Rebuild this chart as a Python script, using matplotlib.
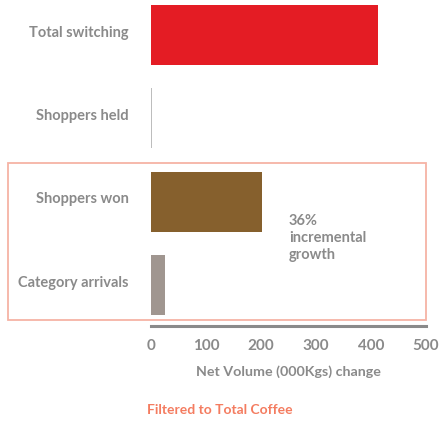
import matplotlib
matplotlib.use('Agg')
import matplotlib.pyplot as plt
from matplotlib.patches import Rectangle
from matplotlib.transforms import ScaledTranslation

# data
categories = ['Total switching', 'Shoppers held', 'Shoppers won', 'Category arrivals']
values = [413, 1, 202, 25]
colors = ['#e41c24', '#bdbdbd', '#86602d', '#a09690']
x_ticks = [0, 100, 200, 300, 400, 500]
note_text = '36%\nincremental\ngrowth'
footer_text = 'Filtered to Total Coffee'

plt.rcParams['font.family'] = ['Lato', 'DejaVu Sans']
grey = '#8a8a8a'

W, H = 440, 423
fig = plt.figure(figsize=(W / 100, H / 100), dpi=100)
ax = fig.add_axes([151 / W, 1 - 326 / H, 275 / W, 326 / H])

ypos = list(range(len(categories)))
ax.barh(ypos, values, height=0.72, color=colors, edgecolor='none')

ax.set_xlim(0, 500)
ax.set_ylim(3.49, -0.42)
ax.set_yticks(ypos)
ax.set_yticklabels(categories, fontsize=10.5, fontweight='bold', color=grey)
ax.set_xticks(x_ticks)
ax.set_xticklabels([str(t) for t in x_ticks], fontsize=11, fontweight='bold', color=grey)
ax.tick_params(axis='both', length=0)
ax.tick_params(axis='y', pad=16)
ax.tick_params(axis='x', pad=9)

# nudge the category labels up a little
shift = ScaledTranslation(0, 0.04, fig.dpi_scale_trans)
for lab in ax.get_yticklabels():
    lab.set_transform(lab.get_transform() + shift)

for s in ['top', 'right', 'left']:
    ax.spines[s].set_visible(False)
ax.spines['bottom'].set_color(grey)
ax.spines['bottom'].set_linewidth(2.2)

ax.set_xlabel('Net Volume (000Kgs) change', fontsize=10.3, fontweight='bold', color=grey, labelpad=9)

fig.text(289 / W, 1 - 238 / H, note_text, ha='left', va='center',
         fontsize=10.5, fontweight='bold', color=grey, linespacing=1.25)
fig.text(147 / W, 1 - 410 / H, footer_text, ha='left', va='center',
         fontsize=10, fontweight='bold', color='#f47c60')

# highlight box around the bottom two rows
box = Rectangle((8 / W, 1 - 320 / H), 418 / W, 157 / H, transform=fig.transFigure,
                fill=False, edgecolor='#f6b3a5', linewidth=1.3, clip_on=False)
fig.patches.append(box)

fig.savefig('out.png', dpi=100)
